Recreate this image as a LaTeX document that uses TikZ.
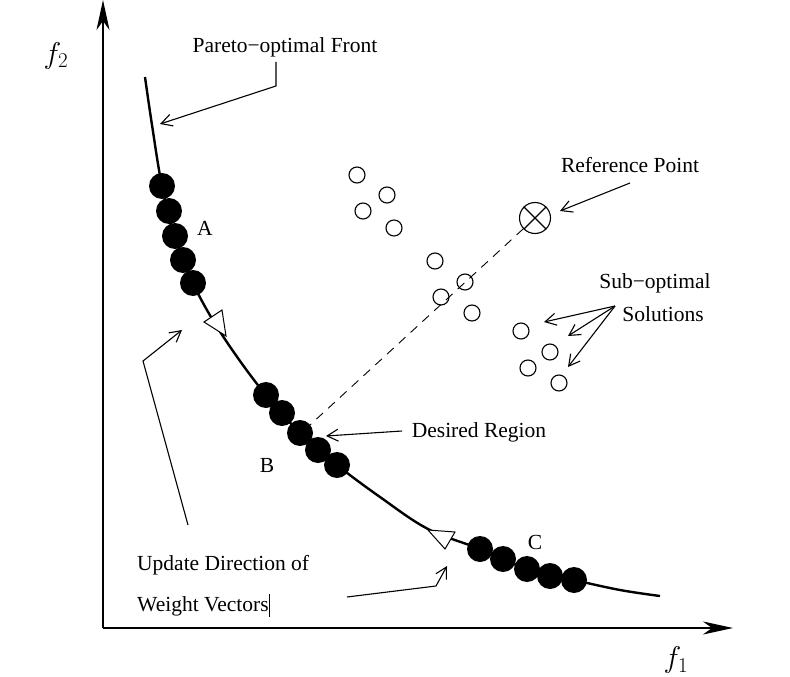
\RequirePackage{fix-cm}
\documentclass[tikz,border=0pt]{standalone}
\usepackage{fontspec}
\setmainfont{Liberation Serif}
\usetikzlibrary{arrows.meta}
\begin{document}
\begin{tikzpicture}[x=1pt,y=-1pt,
  lbl/.style={font=\fontsize{21.5}{24}\selectfont, inner sep=0pt},
  axislbl/.style={font=\fontsize{30}{32}\selectfont, inner sep=0pt},
  axis/.style={line width=1.3pt, -{Stealth[length=30pt,width=13pt,inset=9pt]}},
  pointer/.style={line width=1.1pt, -{Straight Barb[length=11pt,width=12pt]}},
  front/.style={line width=2.4pt},
  good/.style={circle, fill=black, minimum size=26pt, inner sep=0pt},
  sub/.style={circle, draw=black, line width=1.1pt, minimum size=16pt, inner sep=0pt},
  dirtri/.style={draw=black, fill=white, line width=1pt, line join=miter}]
\useasboundingbox (0,0) rectangle (790,677);
% axes
\coordinate (O) at (103,628);
\coordinate (ytop) at (103,0);
\coordinate (xend) at (733,628);
\draw[axis] (O) -- (ytop);
\draw[axis] (O) -- (xend);
\node[axislbl] (f2) at (56,56) {$f_2$};
\node[axislbl] (f1) at (676,660) {$f_1$};
% Pareto front
\draw[front] plot[smooth, tension=0.6] coordinates {(145,77) (152,125) (162,186) (175,236) (193,283) (214,322) (240,361) (266,395) (300,433) (337,465) (380,497) (428,529) (480,549) (527,569) (574,580) (620,590) (660,596)};
% direction triangles
\draw[dirtri] (204,322) -- (222,310) -- (226,336) -- cycle;
\draw[dirtri] (428,530) -- (455,532) -- (445,549) -- cycle;
% group A
\node[good] (a1) at (162,186) {};
\node[good] (a2) at (169,211) {};
\node[good] (a3) at (175,236) {};
\node[good] (a4) at (183,260) {};
\node[good] (a5) at (193,283) {};
% group B
\node[good] (b1) at (266,395) {};
\node[good] (b2) at (282,413) {};
\node[good] (b3) at (300,433) {};
\node[good] (b4) at (318,450) {};
\node[good] (b5) at (337,465) {};
% group C
\node[good] (c1) at (480,549) {};
\node[good] (c2) at (503,559) {};
\node[good] (c3) at (527,569) {};
\node[good] (c4) at (550,576) {};
\node[good] (c5) at (574,580) {};
% sub-optimal solutions
\node[sub] (s1) at (357,175) {};
\node[sub] (s2) at (387,195) {};
\node[sub] (s3) at (363,211) {};
\node[sub] (s4) at (394,228) {};
\node[sub] (s5) at (435,261) {};
\node[sub] (s6) at (465,282) {};
\node[sub] (s7) at (441,297) {};
\node[sub] (s8) at (472,313) {};
\node[sub] (s9) at (521,331) {};
\node[sub] (s10) at (550,352) {};
\node[sub] (s11) at (528,368) {};
\node[sub] (s12) at (559,383) {};
% reference point
\node[circle, draw=black, line width=1.1pt, minimum size=31pt, inner sep=0pt] (ref) at (535,218) {};
\draw[line width=1.1pt] (ref.north west) -- (ref.south east) (ref.north east) -- (ref.south west);
\coordinate (dend) at (310,425);
\draw[line width=0.9pt, dash pattern=on 9pt off 7pt] (ref) -- (dend);
% labels
\node[lbl] (pof) at (285,47) {Pareto−optimal Front};
\coordinate (pofk) at (276,86);
\coordinate (poft) at (160,124);
\draw[pointer] (276,62) -- (pofk) -- (poft);
\node[lbl] (rp) at (630,165) {Reference Point};
\coordinate (rps) at (630,183);
\coordinate (rpt) at (560,211);
\draw[pointer] (rps) -- (rpt);
\node[lbl] (so1) at (655,283) {Sub−optimal};
\node[lbl] (so2) at (663,314) {Solutions};
\coordinate (sos) at (615,306);
\coordinate (sot1) at (544,322);
\coordinate (sot2) at (568,336);
\coordinate (sot3) at (568,367);
\draw[pointer] (sos) -- (sot1);
\draw[pointer] (sos) -- (sot2);
\draw[pointer] (sos) -- (sot3);
\node[lbl] (dr) at (479,432) {Desired Region};
\coordinate (drs) at (402,431);
\coordinate (drt) at (326,436);
\draw[pointer] (drs) -- (drt);
\node[lbl] (la) at (205,228) {A};
\node[lbl] (lb) at (267,465) {B};
\node[lbl] (lc) at (535,542) {C};
\node[lbl, anchor=west] (ud1) at (137,565) {Update Direction of};
\node[lbl, anchor=west] (ud2) at (137,605) {Weight Vectors\rule[-5pt]{0.8pt}{23pt}};
\coordinate (u1s) at (188,525);
\coordinate (u1k) at (143,361);
\coordinate (u1t) at (182,330);
\draw[pointer] (u1s) -- (u1k) -- (u1t);
\coordinate (u2s) at (347,597);
\coordinate (u2k) at (436,586);
\coordinate (u2t) at (447,566);
\draw[pointer] (u2s) -- (u2k) -- (u2t);
\end{tikzpicture}
\end{document}
